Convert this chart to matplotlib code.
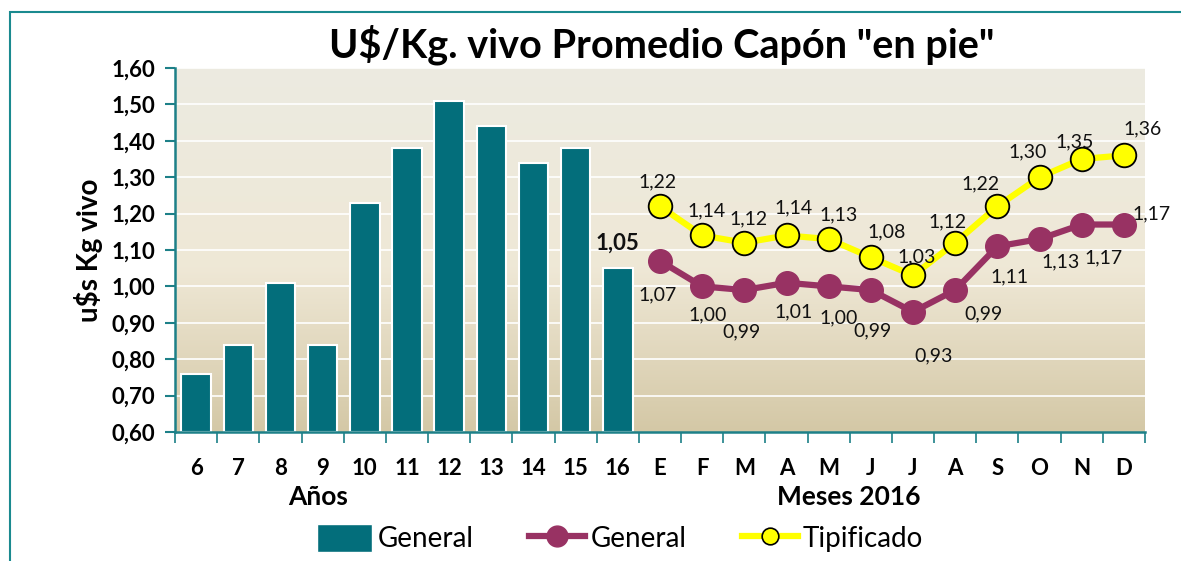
import numpy as np
import matplotlib
matplotlib.use("Agg")
import matplotlib.pyplot as plt
from matplotlib.patches import Rectangle
from matplotlib.lines import Line2D
from matplotlib.colors import LinearSegmentedColormap

plt.rcParams['font.family'] = ['Lato', 'DejaVu Sans']

# datos
anios = ['6', '7', '8', '9', '10', '11', '12', '13', '14', '15', '16']
prom_anual = [0.76, 0.84, 1.01, 0.84, 1.23, 1.38, 1.51, 1.44, 1.34, 1.38, 1.05]
meses = ['E', 'F', 'M', 'A', 'M', 'J', 'J', 'A', 'S', 'O', 'N', 'D']
general = [1.07, 1.00, 0.99, 1.01, 1.00, 0.99, 0.93, 0.99, 1.11, 1.13, 1.17, 1.17]
tipificado = [1.22, 1.14, 1.12, 1.14, 1.13, 1.08, 1.03, 1.12, 1.22, 1.30, 1.35, 1.36]

# desplazamiento de etiquetas (pixeles)
off_gen = [(-2, -34), (5, -28), (-3, -42), (7, -29), (10, -31), (2, -41),
           (21, -44), (28, -24), (12, -31), (21, -23), (22, -33), (28, 11)]
off_tip = [(-2, 24), (4, 25), (4, 24), (7, 28), (10, 24), (16, 25),
           (4, 19), (-8, 21), (-17, 22), (-12, 25), (-7, 17), (19, 26)]

TEAL = '#036e7b'
AXC = '#1d8088'
MAROON = '#983263'
YELLOW = '#ffff00'

def fmt(v):
    return f"{v:.2f}".replace('.', ',')

W, H = 1181, 561
fig = plt.figure(figsize=(W / 100, H / 100), dpi=100)

# marco
fig.patches.append(Rectangle((10 / W, -0.2), 1.2, 1.2 - 12 / H, transform=fig.transFigure,
                             fill=False, edgecolor='#1a8a8f', linewidth=1.5))

L, R, T, B = 175, 1145, 68, 432
ax = fig.add_axes([L / W, 1 - B / H, (R - L) / W, (B - T) / H])

n_a = len(anios)
x_a = np.arange(n_a)
x_m = np.arange(n_a, n_a + len(meses))
ncat = n_a + len(meses)

# fondo degradado
cmap = LinearSegmentedColormap.from_list('fondo', [(0, '#ecebe1'), (0.55, '#efe8d6'), (1, '#d4c8a6')])
grad = np.linspace(0, 1, 256).reshape(-1, 1)
ax.imshow(grad, cmap=cmap, aspect='auto', extent=[-0.5, ncat - 0.5, 0.6, 1.6],
          origin='upper', zorder=0, interpolation='bicubic')
ax.set_xlim(-0.5, ncat - 0.5)
ax.set_ylim(0.6, 1.6)

for y in np.arange(0.7, 1.61, 0.1):
    ax.axhline(y, color='white', linewidth=1.2, zorder=1)

ax.bar(x_a, [v - 0.6 for v in prom_anual], bottom=0.6, width=0.7, color=TEAL,
       edgecolor='white', linewidth=1.5, zorder=2)
ax.annotate(fmt(prom_anual[-1]), (x_a[-1], prom_anual[-1]), xytext=(0, 25),
            textcoords='offset pixels', ha='center', va='center',
            fontsize=16, fontweight='bold', color='#111111')

ax.plot(x_m, general, color=MAROON, linewidth=4.5, marker='o', markersize=17,
        markerfacecolor=MAROON, markeredgecolor=MAROON, zorder=3)
ax.plot(x_m, tipificado, color=YELLOW, linewidth=4.5, marker='o', markersize=17,
        markerfacecolor=YELLOW, markeredgecolor='black', markeredgewidth=1.3, zorder=4)

for i, v in enumerate(general):
    ax.annotate(fmt(v), (x_m[i], v), xytext=off_gen[i], textcoords='offset pixels',
                ha='center', va='center', fontsize=14, color='#111111', zorder=5)
for i, v in enumerate(tipificado):
    ax.annotate(fmt(v), (x_m[i], v), xytext=off_tip[i], textcoords='offset pixels',
                ha='center', va='center', fontsize=14, color='#111111', zorder=5)

# ejes
for s in ['top', 'right']:
    ax.spines[s].set_visible(False)
for s in ['left', 'bottom']:
    ax.spines[s].set_color(AXC)
    ax.spines[s].set_linewidth(1.8)

ax.set_yticks(np.arange(0.6, 1.61, 0.1))
ax.set_yticklabels([fmt(v) for v in np.arange(0.6, 1.61, 0.1)], fontsize=16, fontweight='bold')
ax.tick_params(axis='y', colors=AXC, labelcolor='black', length=7, width=1.5, pad=7)

ax.set_xticks(np.arange(-0.5, ncat, 1.0))
ax.set_xticklabels([])
ax.tick_params(axis='x', which='major', colors=AXC, length=8, width=1.2)
ax.set_xticks(np.arange(ncat), minor=True)
ax.set_xticklabels(anios + meses, minor=True, fontsize=16, fontweight='bold')
ax.tick_params(axis='x', which='minor', length=0, pad=19, labelcolor='black')

ax.set_ylabel('u$s Kg vivo', fontsize=20, fontweight='bold', labelpad=6)

ax.text(2.9, -0.179, 'Años', transform=ax.get_xaxis_transform(), ha='center', va='center',
        fontsize=19, fontweight='bold')
ax.text(15.47, -0.179, 'Meses 2016', transform=ax.get_xaxis_transform(), ha='center', va='center',
        fontsize=19, fontweight='bold')

fig.text(662 / W, 1 - 45 / H, 'U$/Kg. vivo Promedio Capón "en pie"', ha='center', va='center',
         fontsize=28.5, fontweight='bold')

handles = [
    Rectangle((0, 0), 1, 1, facecolor=TEAL, edgecolor='white'),
    Line2D([], [], color=MAROON, linewidth=4.5, marker='o', markersize=15, markerfacecolor=MAROON),
    Line2D([], [], color=YELLOW, linewidth=4.5, marker='o', markersize=12,
           markerfacecolor=YELLOW, markeredgecolor='black', markeredgewidth=1.2),
]
fig.legend(handles, ['General', 'General', 'Tipificado'], loc='center', ncol=3,
           bbox_to_anchor=(620 / W, 1 - 538 / H), frameon=False, fontsize=20,
           handlelength=2.0, handleheight=1.2, handletextpad=0.2, columnspacing=2.0)

fig.savefig('out.png', dpi=100)
